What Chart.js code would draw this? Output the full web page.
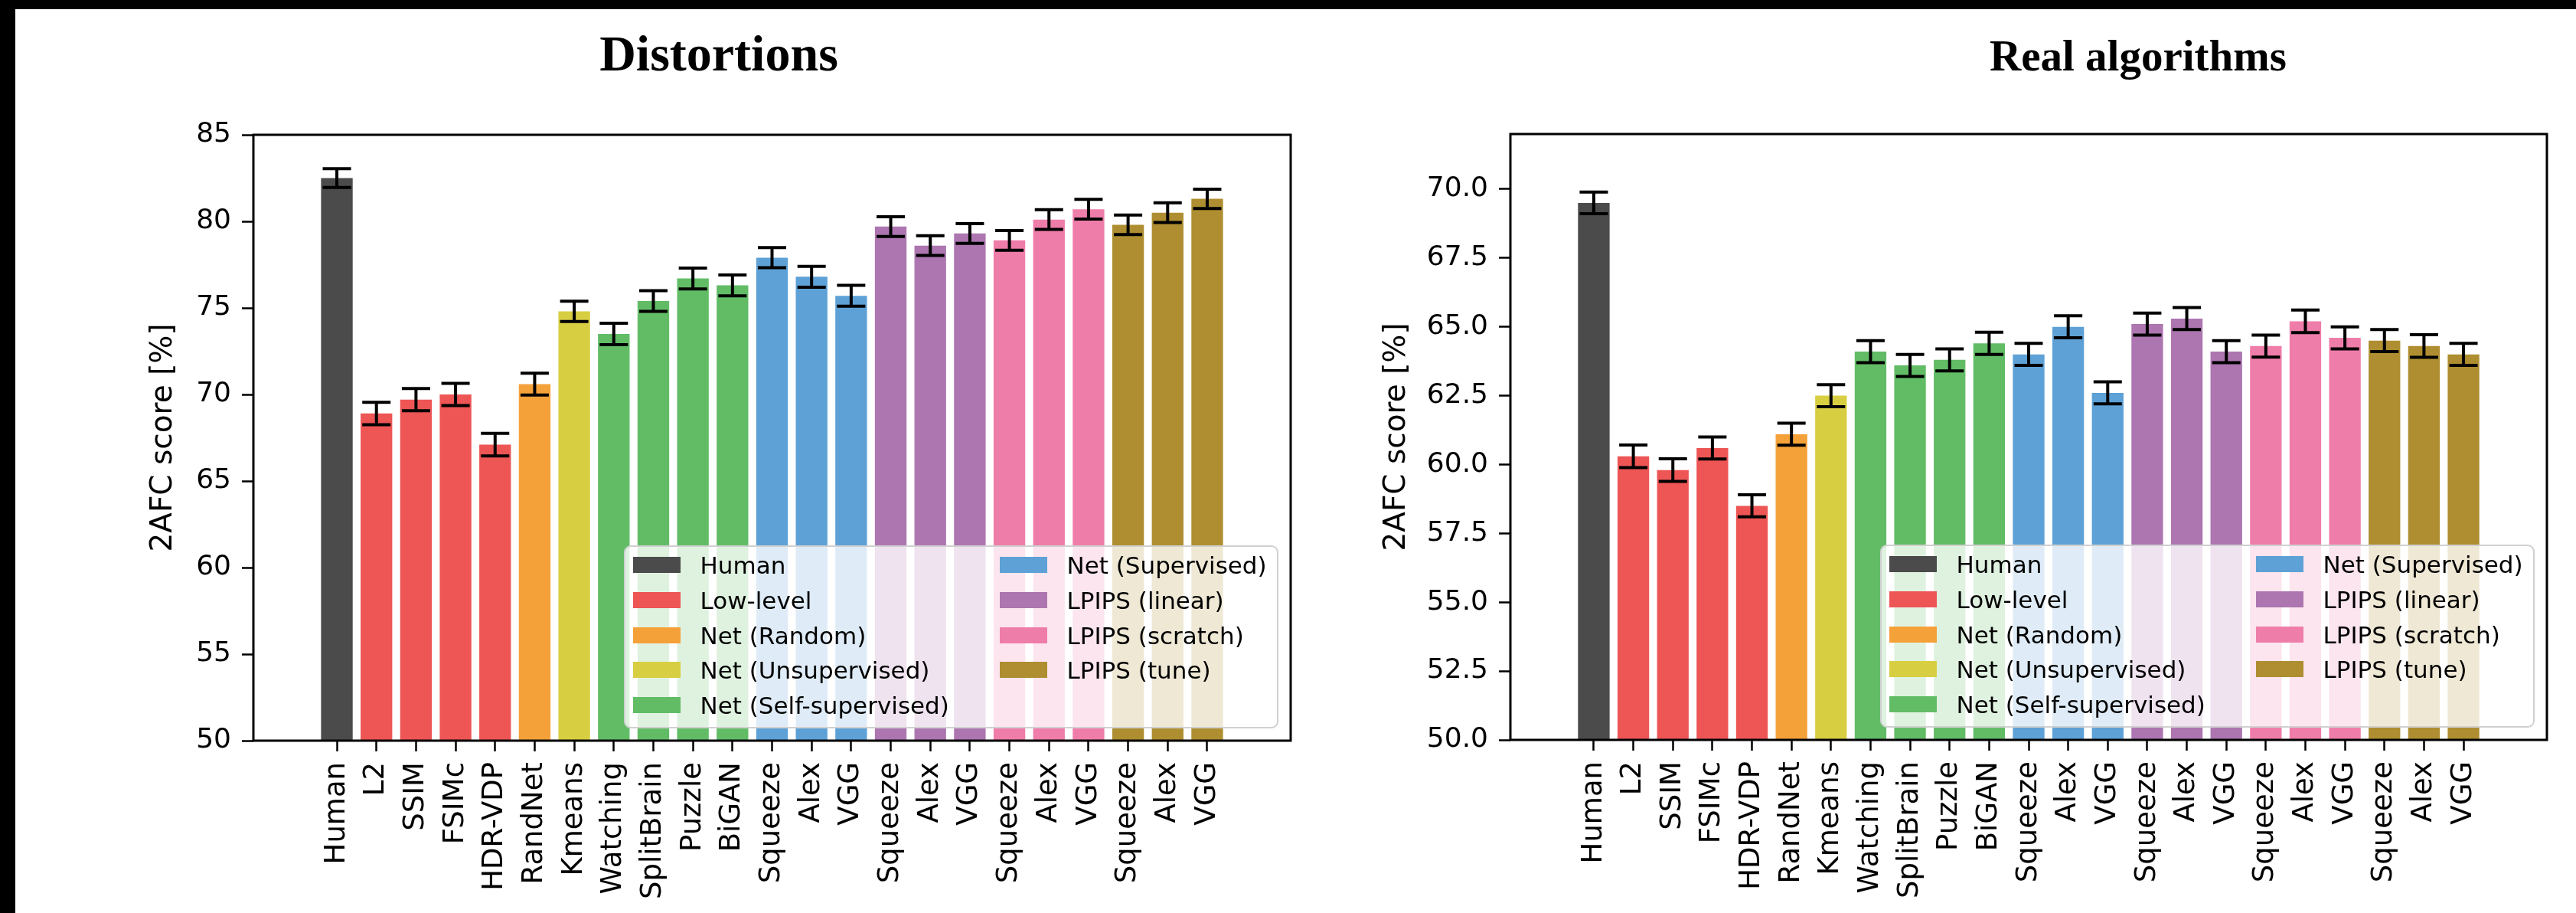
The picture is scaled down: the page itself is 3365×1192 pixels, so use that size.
<!DOCTYPE html>
<html>
<head>
<meta charset="utf-8">
<script src="https://cdn.jsdelivr.net/npm/chart.js"></script>
<style>
    html, body { margin: 0; padding: 0; background: #000; width: 3365px; height: 1192px; overflow: hidden; }
    #pagina { position: absolute; left: 20px; top: 12px; right: 0; bottom: 0; background: #fff; }
    canvas { position: absolute; top: 0; }
    #graficoDistorcoes { left: 0; }
    #graficoReais { left: 1700px; }
    .titulo { position: absolute; width: 800px; text-align: center; color: #000;
              font-family: "Liberation Serif", "Times New Roman", serif; font-weight: bold; }
    #tituloEsq { left: 539px; top: 37px; font-size: 66px; line-height: 66px; }
    #tituloDir { left: 2393px; top: 44px; font-size: 57px; line-height: 57px; }
    .legenda { position: absolute; width: 855px; height: 239px; box-sizing: border-box;
               background: rgba(255, 255, 255, 0.8); border: 2.5px solid #d0d0d0; border-radius: 9px;
               font: 31px "DejaVu Sans", sans-serif; color: #000; }
    .item { position: absolute; height: 46px; line-height: 46px; white-space: nowrap; }
    .item .cor { position: absolute; left: 0; top: 12px; width: 62px; height: 21px; }
    .item .txt { position: absolute; left: 88px; top: 0; }
</style>
</head>
<body>
<div id="pagina"></div>
<div class="titulo" id="tituloEsq">Distortions</div>
<div class="titulo" id="tituloDir">Real algorithms</div>
<canvas id="graficoDistorcoes" width="1700" height="1192"></canvas>
<canvas id="graficoReais" width="1665" height="1192"></canvas>
<div class="legenda" id="legendaEsq"></div>
<div class="legenda" id="legendaDir"></div>

<script>
// categorias do eixo x (23 barras)
const categorias = ['Human', 'L2', 'SSIM', 'FSIMc', 'HDR-VDP', 'RandNet', 'Kmeans', 'Watching', 'SplitBrain',
    'Puzzle', 'BiGAN', 'Squeeze', 'Alex', 'VGG', 'Squeeze', 'Alex', 'VGG', 'Squeeze', 'Alex', 'VGG',
    'Squeeze', 'Alex', 'VGG'];

// grupo de cada barra (indice em nomesGrupos)
const grupoDe = [0, 1, 1, 1, 1, 2, 3, 4, 4, 4, 4, 5, 5, 5, 6, 6, 6, 7, 7, 7, 8, 8, 8];

const nomesGrupos = ['Human', 'Low-level', 'Net (Random)', 'Net (Unsupervised)', 'Net (Self-supervised)',
    'Net (Supervised)', 'LPIPS (linear)', 'LPIPS (scratch)', 'LPIPS (tune)'];
const coresGrupos = ['#4b4b4b', '#ee5555', '#f5a13a', '#d8ce42', '#62bc66', '#5ea1d6', '#ad76b0', '#ef7daa', '#ae8e30'];

// Distortions
const valoresDistorcoes = [82.5, 68.9, 69.7, 70.0, 67.1, 70.6, 74.8, 73.5, 75.4, 76.7, 76.3, 77.9, 76.8, 75.7,
    79.7, 78.6, 79.3, 78.9, 80.1, 80.7, 79.8, 80.5, 81.3];
const errosDistorcoes = [0.54, 0.65, 0.64, 0.64, 0.65, 0.63, 0.59, 0.62, 0.60, 0.60, 0.60, 0.58, 0.60, 0.60,
    0.57, 0.57, 0.57, 0.57, 0.57, 0.57, 0.56, 0.57, 0.56];
const ticksDistorcoes = [50, 55, 60, 65, 70, 75, 80, 85];

// Real algorithms
const valoresReais = [69.5, 60.3, 59.8, 60.6, 58.5, 61.1, 62.5, 64.1, 63.6, 63.8, 64.4, 64.0, 65.0, 62.6,
    65.1, 65.3, 64.1, 64.3, 65.2, 64.6, 64.5, 64.3, 64.0];
const errosReais = [0.39, 0.41, 0.41, 0.40, 0.40, 0.40, 0.40, 0.40, 0.40, 0.40, 0.40, 0.40, 0.40, 0.40,
    0.40, 0.40, 0.40, 0.40, 0.41, 0.40, 0.40, 0.41, 0.40];
const ticksReais = [50.0, 52.5, 55.0, 57.5, 60.0, 62.5, 65.0, 67.5, 70.0];

Chart.defaults.font.family = 'DejaVu Sans';
Chart.defaults.color = '#000';

var dadosPorGrafico = {
    graficoDistorcoes: { valores: valoresDistorcoes, erros: errosDistorcoes },
    graficoReais: { valores: valoresReais, erros: errosReais }
};

// caixa preta em volta da area do grafico
const moldura = {
    id: 'moldura',
    afterDraw(chart) {
        const a = chart.chartArea;
        const c = chart.ctx;
        c.save();
        c.strokeStyle = '#000';
        c.lineWidth = 3;
        c.strokeRect(a.left, a.top, a.right - a.left, a.bottom - a.top);
        c.restore();
    }
};

const barrasErro = {
    id: 'barrasErro',
    afterDatasetsDraw(chart) {
        const dados = dadosPorGrafico[chart.canvas.id];
        const x = chart.scales.x;
        const y = chart.scales.y;
        const c = chart.ctx;
        c.save();
        c.strokeStyle = '#000';
        c.lineWidth = 4;
        dados.valores.forEach((v, i) => {
            const px = x.getPixelForValue(i);
            const topo = y.getPixelForValue(v + dados.erros[i]);
            const base = y.getPixelForValue(v - dados.erros[i]);
            c.beginPath();
            c.moveTo(px, topo); c.lineTo(px, base);
            c.moveTo(px - 18.5, topo); c.lineTo(px + 18.5, topo);
            c.moveTo(px - 18.5, base); c.lineTo(px + 18.5, base);
            c.stroke();
        });
        c.restore();
    }
};

var criarGrafico = function (canvasId, valores, ticksY, minY, maxY, casas, layout) {
    const fonteY = { family: 'DejaVu Sans', size: 36 };
    const fonteX = { family: 'DejaVu Sans', size: 37 };
    const fonteTitulo = { family: 'DejaVu Sans', size: 39 };

    const datasets = nomesGrupos.map((nome, g) => ({
        label: nome,
        data: valores.map((v, i) => ({ x: i, y: v })).filter((p, i) => grupoDe[i] === g),
        backgroundColor: coresGrupos[g],
        borderWidth: 0,
        base: minY,
        grouped: false,
        barPercentage: 0.8,
        categoryPercentage: 1.0
    }));

    const ctx = document.getElementById(canvasId).getContext('2d');
    return new Chart(ctx, {
        type: 'bar',
        data: { datasets: datasets },
        options: {
            responsive: false,
            animation: false,
            devicePixelRatio: 1,
            layout: { padding: layout.padding },
            plugins: {
                legend: { display: false },
                tooltip: { enabled: false }
            },
            scales: {
                x: {
                    type: 'linear',
                    min: -1.54,
                    max: categorias.length - 1 + 1.54,
                    afterBuildTicks: s => { s.ticks = categorias.map((c, i) => ({ value: i })); },
                    afterFit: s => { s.height = layout.alturaX; },
                    ticks: {
                        autoSkip: false, minRotation: 90, maxRotation: 90, padding: 14,
                        color: '#000', font: fonteX,
                        callback: v => categorias[v]
                    },
                    grid: { drawOnChartArea: false, drawTicks: true, tickLength: 14, tickWidth: 2.5, tickColor: '#000', offset: false },
                    border: { display: false }
                },
                y: {
                    min: minY,
                    max: maxY,
                    afterBuildTicks: s => { s.ticks = ticksY.map(v => ({ value: v })); },
                    afterFit: s => { s.width = layout.larguraY; },
                    ticks: {
                        padding: 14, color: '#000', font: fonteY,
                        callback: v => v.toFixed(casas)
                    },
                    grid: { drawOnChartArea: false, drawTicks: true, tickLength: 15, tickWidth: 2.5, tickColor: '#000' },
                    border: { display: false },
                    title: { display: true, text: '2AFC score [%]', color: '#000', font: fonteTitulo, padding: 0 }
                }
            }
        },
        plugins: [moldura, barrasErro]
    });
};

var montarLegenda = function (divId, grafico, offsetX) {
    const div = document.getElementById(divId);
    const a = grafico.chartArea;
    div.style.left = (offsetX + a.right - 16 - 855) + 'px';
    div.style.top = (a.bottom - 16 - 239) + 'px';

    nomesGrupos.forEach((nome, g) => {
        const coluna = g < 5 ? 0 : 1;
        const linha = g < 5 ? g : g - 5;
        const item = document.createElement('div');
        item.className = 'item';
        item.style.left = (9.5 + coluna * 479) + 'px';
        item.style.top = (1 + linha * 45.8) + 'px';
        item.innerHTML = `<span class="cor" style="background:${coresGrupos[g]}"></span><span class="txt">${nome}</span>`;
        div.appendChild(item);
    });
};

var graficoEsq = criarGrafico('graficoDistorcoes', valoresDistorcoes, ticksDistorcoes, 50, 85, 0, {
    padding: { left: 190, right: 14, top: 176, bottom: 0 },
    larguraY: 141,
    alturaX: 225
});

var graficoDir = criarGrafico('graficoReais', valoresReais, ticksReais, 50, 72, 1, {
    padding: { left: 101, right: 38, top: 175, bottom: 0 },
    larguraY: 172,
    alturaX: 226
});

montarLegenda('legendaEsq', graficoEsq, 0);
montarLegenda('legendaDir', graficoDir, 1700);
</script>
</body>
</html>
